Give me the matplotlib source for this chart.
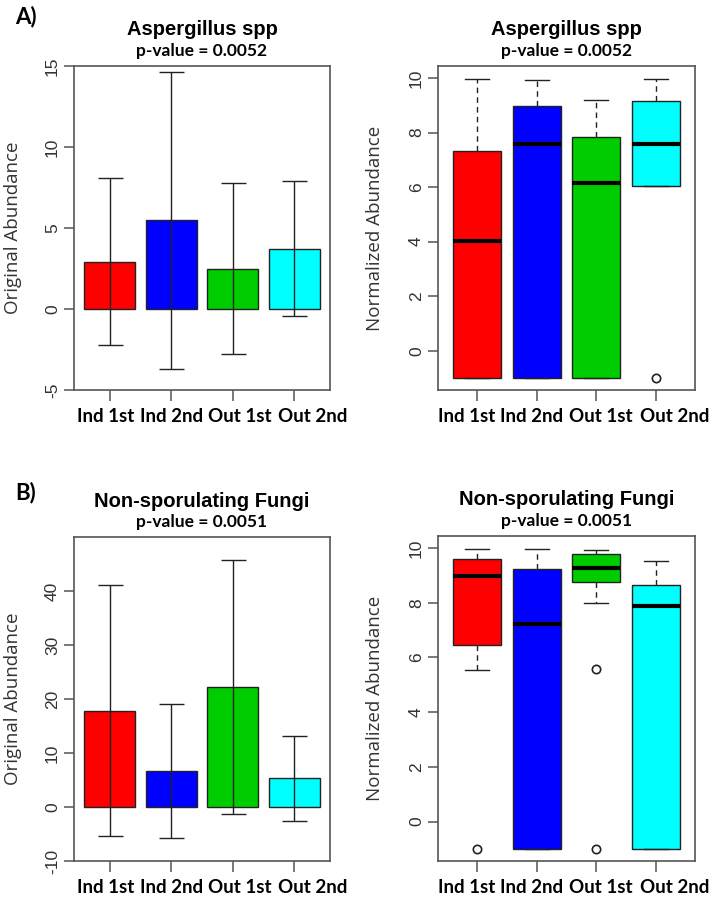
import matplotlib
matplotlib.use("Agg")
import matplotlib.pyplot as plt
from matplotlib.transforms import ScaledTranslation

plt.rcParams['axes.unicode_minus'] = False

# groups
groups = ["Ind 1st", "Ind 2nd", "Out 1st", "Out 2nd"]
colors = ["#ff0000", "#0000ff", "#00cd00", "#00ffff"]

# A) Aspergillus spp - original abundance (mean, sd)
asp_mean = [2.93, 5.49, 2.50, 3.73]
asp_sd = [5.13, 9.17, 5.28, 4.18]
# A) Aspergillus spp - normalized abundance (box stats)
asp_whislo = [-1.0, -1.0, -1.0, 6.04]
asp_q1 = [-1.0, -1.0, -1.0, 6.04]
asp_med = [4.02, 7.59, 6.14, 7.59]
asp_q3 = [7.34, 8.98, 7.84, 9.15]
asp_whishi = [9.98, 9.91, 9.19, 9.98]
asp_fliers = [[], [], [], [-1.0]]

# B) Non-sporulating fungi - original abundance (mean, sd)
nsf_mean = [17.82, 6.70, 22.18, 5.28]
nsf_sd = [23.2, 12.35, 23.53, 7.83]
# B) Non-sporulating fungi - normalized abundance (box stats)
nsf_whislo = [5.53, -1.0, 8.0, -1.0]
nsf_q1 = [6.45, -1.0, 8.77, -1.0]
nsf_med = [8.97, 7.23, 9.28, 7.87]
nsf_q3 = [9.60, 9.23, 9.77, 8.65]
nsf_whishi = [9.96, 9.96, 9.93, 9.51]
nsf_fliers = [[-1.0], [], [5.58, -1.0], []]

title_font = {'family': 'Liberation Sans', 'weight': 'bold', 'size': 14.5}
p_font = {'family': 'Lato', 'weight': 'bold', 'size': 12.5}
xtick_font = {'family': 'Lato', 'weight': 'bold', 'size': 13.5}
ylab_font = {'family': 'Open Sans', 'size': 13.5}
frame_col = '#555555'

W, H = 714, 898
fig = plt.figure(figsize=(W / 100, H / 100), dpi=100)


def axes_px(left, top, right, bottom):
    return fig.add_axes([left / W, 1 - bottom / H, (right - left) / W, (bottom - top) / H])


def style(ax, title, pval, ylabel, label_shift, ylab_x, title_y):
    for s in ax.spines.values():
        s.set_color(frame_col)
        s.set_linewidth(1.2)
    ax.tick_params(axis='y', length=7, width=1.1, color=frame_col, labelsize=12.5,
                   labelcolor='#333333', pad=3)
    ax.tick_params(axis='x', length=8, width=1.1, color=frame_col, pad=5)
    for lab in ax.get_yticklabels():
        lab.set_rotation(90)
        lab.set_va('center')
        lab.set_family('Liberation Sans')
    fp = matplotlib.font_manager.FontProperties(**xtick_font)
    for lab, dx in zip(ax.get_xticklabels(), label_shift):
        lab.set_fontproperties(fp)
        lab.set_transform(lab.get_transform() + ScaledTranslation(dx / 100, 0, fig.dpi_scale_trans))
    ax.set_ylabel(ylabel, fontdict=ylab_font, color='#333333')
    ax.yaxis.set_label_coords(ylab_x, 0.5)
    ax.text(0.5, title_y, title, transform=ax.transAxes, ha='center', va='baseline', fontdict=title_font)
    ax.text(0.5, 1.03, pval, transform=ax.transAxes, ha='center', va='baseline', fontdict=p_font)


def bar_panel(ax, mean, sd, ylim, yticks, title, pval, title_y):
    pos = [0.7, 1.9, 3.1, 4.3]
    ax.bar(pos, mean, width=1.0, color=colors, edgecolor='#222222', linewidth=1.0)
    ax.errorbar(pos, mean, yerr=sd, fmt='none', ecolor='#222222', elinewidth=1.0,
                capsize=9, capthick=1.0)
    ax.set_xlim(0, 5)
    ax.set_ylim(*ylim)
    ax.set_yticks(yticks)
    ax.set_xticks(pos)
    ax.set_xticklabels(groups)
    style(ax, title, pval, 'Original Abundance', [-4, 0, 7, 19], -0.205, title_y)


def box_panel(ax, whislo, q1, med, q3, whishi, fliers, title, pval, title_y):
    stats = []
    for i in range(len(groups)):
        stats.append({'whislo': whislo[i], 'q1': q1[i], 'med': med[i], 'q3': q3[i],
                      'whishi': whishi[i], 'fliers': fliers[i]})
    bp = ax.bxp(stats, positions=[1, 2, 3, 4], widths=0.8, patch_artist=True,
                boxprops={'edgecolor': '#222222', 'linewidth': 1.0},
                medianprops={'color': 'black', 'linewidth': 3},
                whiskerprops={'color': '#222222', 'linestyle': (0, (4, 3)), 'linewidth': 1.0},
                capprops={'color': '#222222', 'linewidth': 1.0}, capwidths=0.4,
                flierprops={'marker': 'o', 'markerfacecolor': 'none', 'markeredgecolor': '#222222',
                            'markersize': 6, 'markeredgewidth': 1.2})
    for patch, c in zip(bp['boxes'], colors):
        patch.set_facecolor(c)
    ax.set_xlim(0.34, 4.66)
    ax.set_ylim(-1.44, 10.44)
    ax.set_yticks([0, 2, 4, 6, 8, 10])
    ax.set_xticks([1, 2, 3, 4])
    ax.set_xticklabels(groups)
    style(ax, title, pval, 'Normalized Abundance', [-11, -5, 5, 19], -0.212, title_y)


ax1 = axes_px(74, 66, 330, 390)
bar_panel(ax1, asp_mean, asp_sd, (-5, 15), [-5, 0, 5, 10, 15], 'Aspergillus spp', 'p-value = 0.0052', 1.096)
ax2 = axes_px(438, 66, 695, 390)
box_panel(ax2, asp_whislo, asp_q1, asp_med, asp_q3, asp_whishi, asp_fliers,
          'Aspergillus spp', 'p-value = 0.0052', 1.096)
ax3 = axes_px(74, 537, 330, 861)
bar_panel(ax3, nsf_mean, nsf_sd, (-10, 50), [-10, 0, 10, 20, 30, 40], 'Non-sporulating Fungi',
          'p-value = 0.0051', 1.094)
ax4 = axes_px(438, 536, 695, 861)
box_panel(ax4, nsf_whislo, nsf_q1, nsf_med, nsf_q3, nsf_whishi, nsf_fliers,
          'Non-sporulating Fungi', 'p-value = 0.0051', 1.094)

fig.text(15 / W, 1 - 23 / H, 'A)', fontsize=16, fontweight='bold', family='Lato')
fig.text(15 / W, 1 - 499 / H, 'B)', fontsize=16, fontweight='bold', family='Lato')

plt.savefig('out.png', dpi=100)
